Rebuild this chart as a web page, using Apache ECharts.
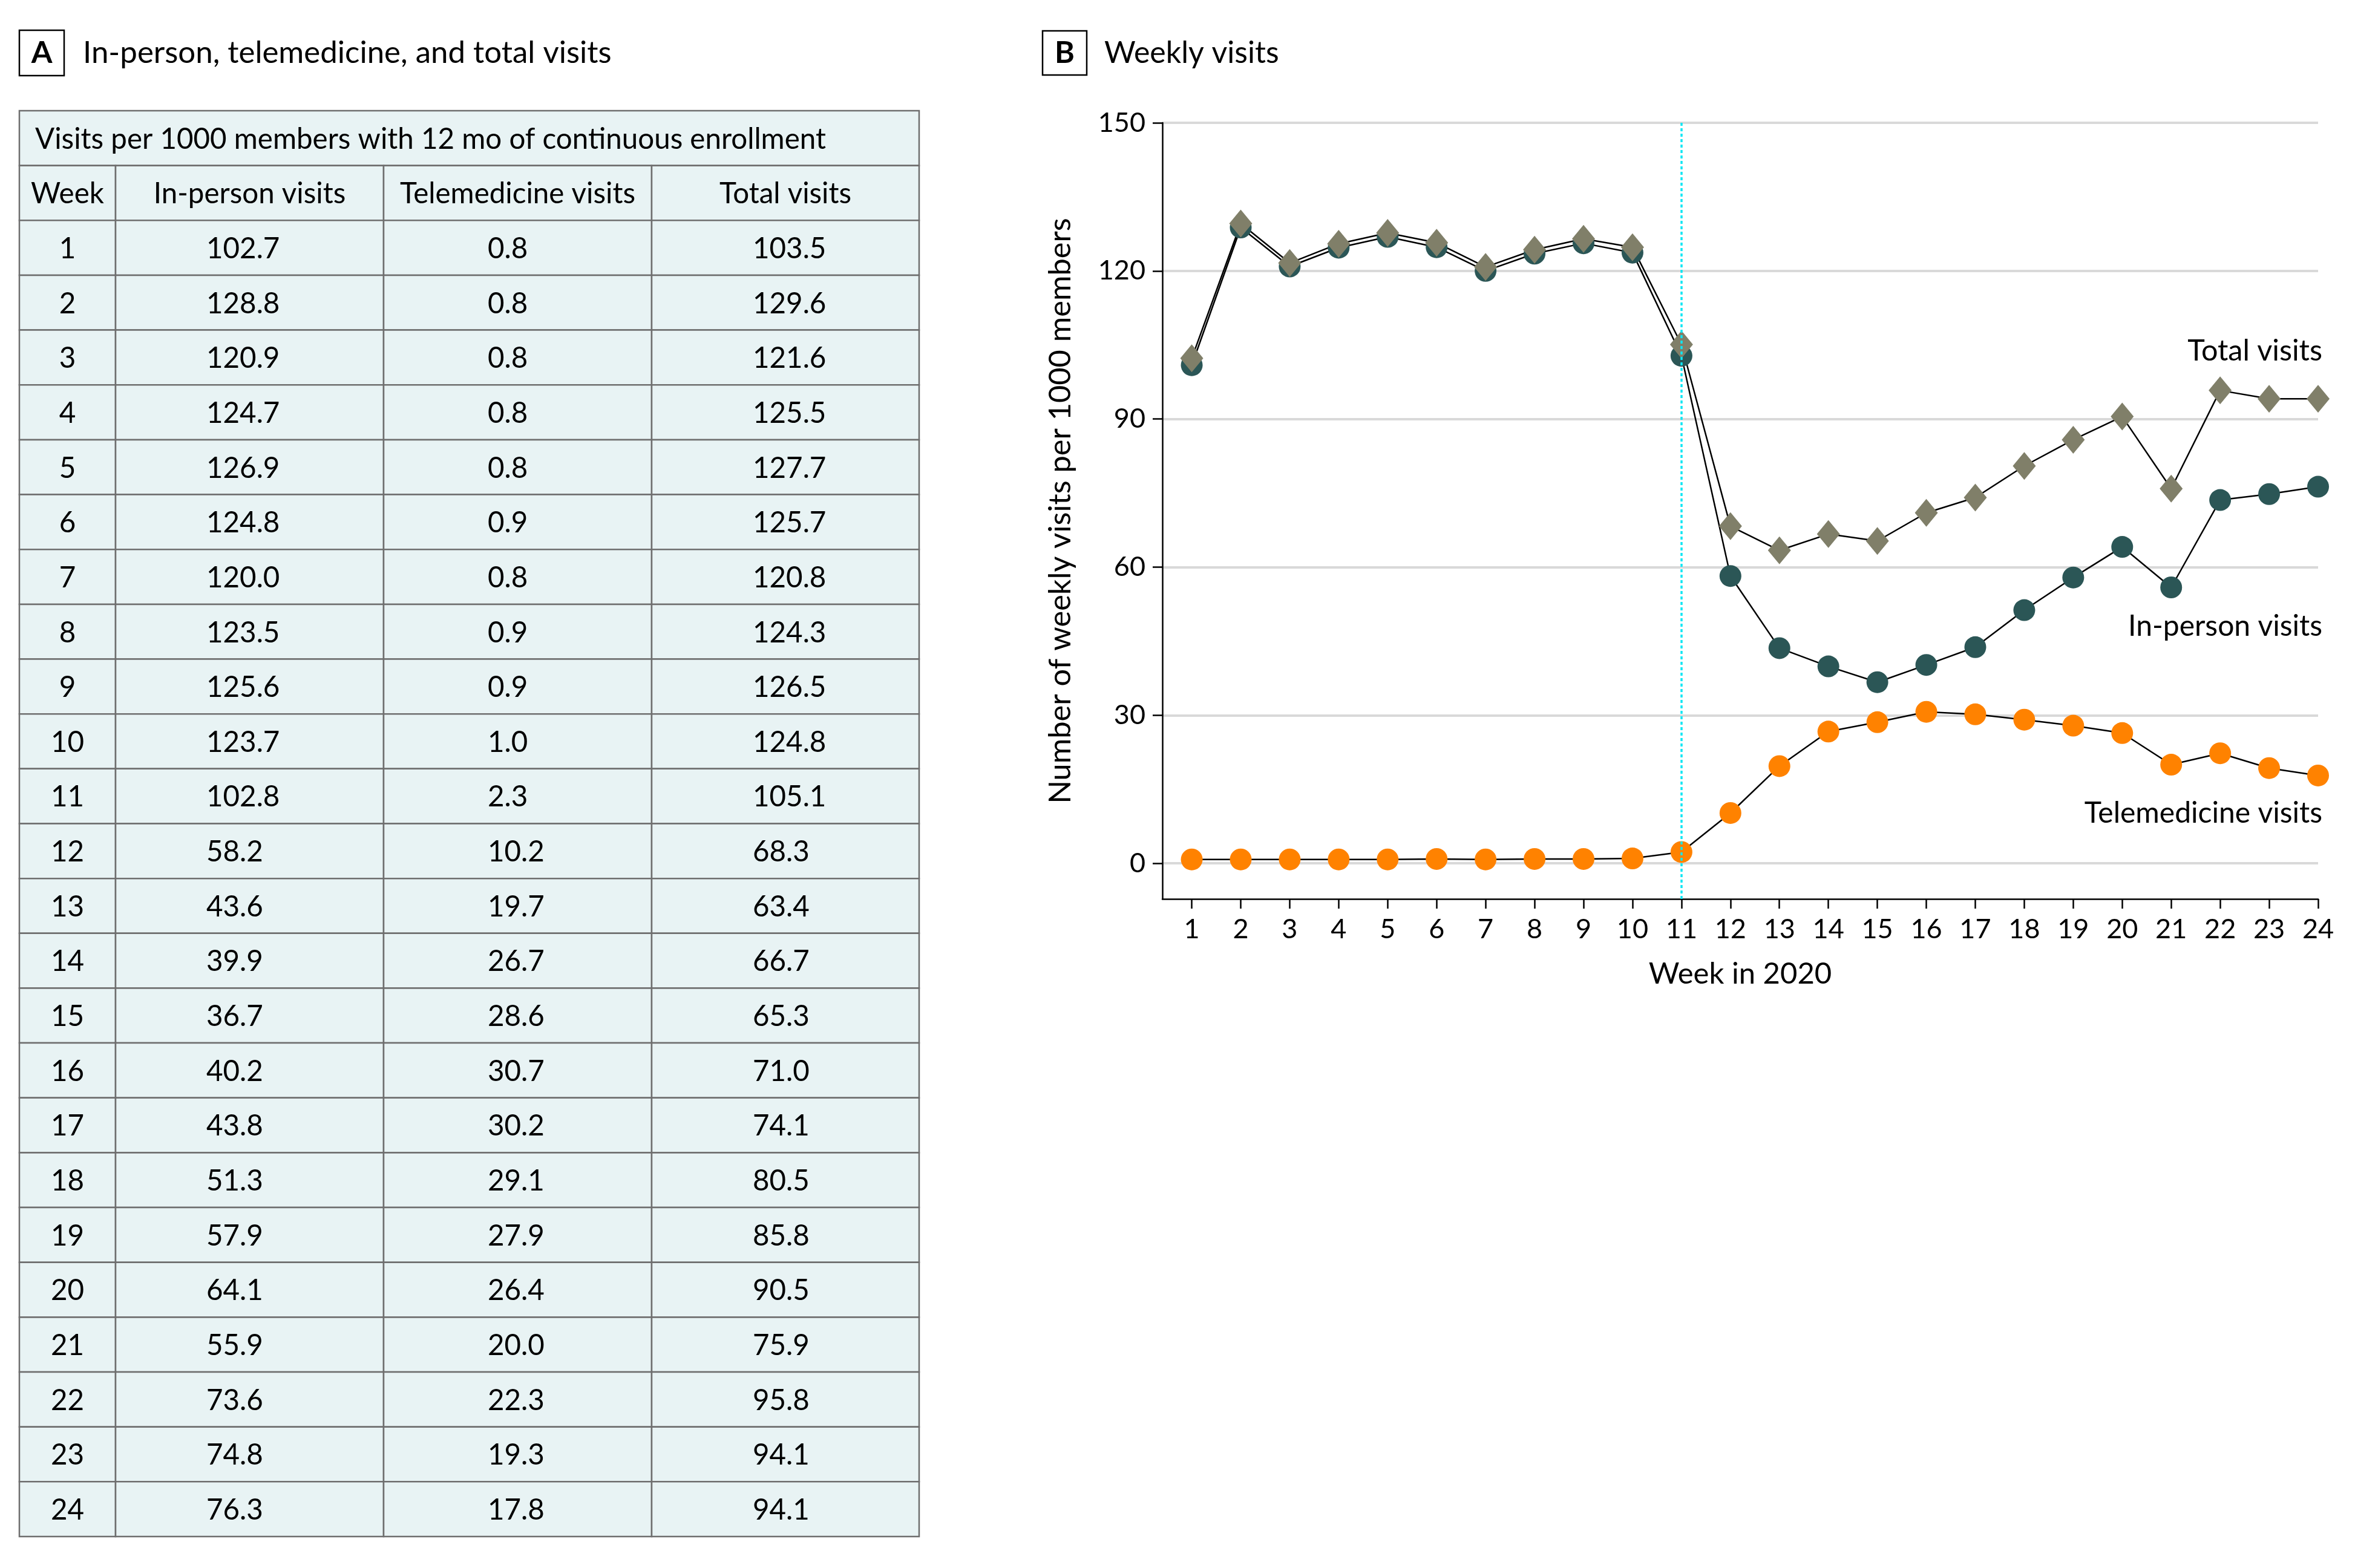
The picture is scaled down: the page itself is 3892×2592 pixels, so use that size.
<!DOCTYPE html>
<html>
<head>
<meta charset="utf-8">
<script src="https://cdn.jsdelivr.net/npm/echarts@6/dist/echarts.min.js"></script>
<style>
html,body{margin:0;padding:0;background:#fff;}
#c{width:3892px;height:2592px;}
</style>
</head>
<body>
<div id="c"></div>
<script>
// ---------------- data ----------------
const weeks = [1,2,3,4,5,6,7,8,9,10,11,12,13,14,15,16,17,18,19,20,21,22,23,24];
// table (panel A) values
const inPerson = [102.7,128.8,120.9,124.7,126.9,124.8,120.0,123.5,125.6,123.7,102.8,58.2,43.6,39.9,36.7,40.2,43.8,51.3,57.9,64.1,55.9,73.6,74.8,76.3];
const telemedicine = [0.8,0.8,0.8,0.8,0.8,0.9,0.8,0.9,0.9,1.0,2.3,10.2,19.7,26.7,28.6,30.7,30.2,29.1,27.9,26.4,20.0,22.3,19.3,17.8];
const totalVisits = [103.5,129.6,121.6,125.5,127.7,125.7,120.8,124.3,126.5,124.8,105.1,68.3,63.4,66.7,65.3,71.0,74.1,80.5,85.8,90.5,75.9,95.8,94.1,94.1];
// plotted (panel B) values
const plotInPerson = [100.9,128.8,120.9,124.7,126.9,124.8,120.0,123.5,125.6,123.7,102.8,58.2,43.6,39.9,36.7,40.2,43.8,51.3,57.9,64.1,55.9,73.6,74.8,76.3];
const plotTelemedicine = [0.8,0.8,0.8,0.8,0.8,0.9,0.8,0.9,0.9,1.0,2.3,10.2,19.7,26.7,28.6,30.7,30.2,29.1,27.9,26.4,20.0,22.3,19.3,17.8];
const plotTotal = [102.3,129.6,121.6,125.5,127.7,125.7,120.8,124.3,126.5,124.8,105.1,68.3,63.4,66.7,65.3,71.0,74.1,80.5,85.8,90.5,75.9,95.8,94.1,94.1];
const yTicks = [0,30,60,90,120,150];
const markerWeek = 11;
const tableCaption = 'Visits per 1000 members with 12 mo of continuous enrollment';
const tableHeaders = ['Week','In-person visits','Telemedicine visits','Total visits'];
const seriesNames = ['Telemedicine visits','In-person visits','Total visits'];

// ---------------- layout / style ----------------
const FONT = 'Lato';
const colEdges = [0, 159, 602, 1045, 1487];     // table column edges (px within table)
const numTextX = [null, 309, 774, 1212];         // left start of numbers in data columns

const cells = [];
cells.push({row:0, c0:0, c1:4, text:tableCaption, align:'left', tx:26});
tableHeaders.forEach((h,i)=>cells.push({row:1, c0:i, c1:i+1, text:h, align:'center'}));
weeks.forEach((w,r)=>{
  const row = r+2;
  cells.push({row, c0:0, c1:1, text:String(w), align:'center'});
  cells.push({row, c0:1, c1:2, text:inPerson[r].toFixed(1), align:'left', tx:numTextX[1]});
  cells.push({row, c0:2, c1:3, text:telemedicine[r].toFixed(1), align:'left', tx:numTextX[2]});
  cells.push({row, c0:3, c1:4, text:totalVisits[r].toFixed(1), align:'left', tx:numTextX[3]});
});
const rowKeys = Array.from({length: weeks.length + 2}, (_, i) => 'r' + i);

const chart = echarts.init(document.getElementById('c'), null, {renderer:'canvas'});

function lineSeries(name, values, symbol, size, color){
  return {
    name, type:'line', xAxisIndex:0, yAxisIndex:0,
    data: weeks.map((w,i)=>[w, values[i]]),
    symbol, symbolSize:size, showAllSymbol:true,
    itemStyle:{color, opacity:1},
    lineStyle:{color:'#000', width:2.5},
    emphasis:{disabled:true}, silent:true
  };
}

function label(text, x, y, size, extra){
  return {type:'text', x, y, style:Object.assign({text, fontSize:size, fontFamily:FONT, fill:'#000',
    align:'left', verticalAlign:'middle', textAlign:'left', textVerticalAlign:'middle'}, extra||{})};
}

const option = {
  animation:false,
  backgroundColor:'#fff',
  textStyle:{fontFamily:FONT},
  grid:[
    {left:1921, top:203, width:1910, height:1283, containLabel:false},
    {left:32, top:183, width:1487, height:2357, containLabel:false}
  ],
  xAxis:[
    {
      type:'value', gridIndex:0, min:0.4, max:24,
      axisLine:{show:true, onZero:false, lineStyle:{color:'#000', width:2.5}},
      axisTick:{show:true, customValues:weeks, length:16, lineStyle:{color:'#000', width:2.5}},
      axisLabel:{customValues:weeks, fontSize:45, color:'#000', margin:28, fontFamily:FONT},
      splitLine:{show:false},
      name:'Week in 2020', nameLocation:'middle', nameGap:100,
      nameTextStyle:{fontSize:49, color:'#000', fontFamily:FONT}
    },
    {type:'value', gridIndex:1, min:0, max:1487, show:false}
  ],
  yAxis:[
    {
      type:'value', gridIndex:0, min:-7.2, max:150,
      axisLine:{show:true, onZero:false, lineStyle:{color:'#000', width:2.5}},
      axisTick:{show:true, customValues:yTicks, length:16, lineStyle:{color:'#000', width:2.5}},
      axisLabel:{customValues:yTicks, fontSize:45, color:'#000', margin:28, fontFamily:FONT},
      splitLine:{show:true, lineStyle:{color:'#d9d9d9', width:4}},
      name:'Number of weekly visits per 1000 members', nameLocation:'middle', nameGap:143, nameRotate:90,
      nameTextStyle:{fontSize:50.5, color:'#000', fontFamily:FONT}
    },
    {type:'category', gridIndex:1, data:rowKeys, inverse:true, show:false}
  ],
  graphic:[
    {type:'rect', shape:{x:32, y:50, width:74, height:75}, style:{fill:'none', stroke:'#000', lineWidth:2.5}},
    label('A', 69, 88, 50, {fontWeight:'bold', align:'center', textAlign:'center'}),
    label('In-person, telemedicine, and total visits', 137, 88, 51),
    {type:'rect', shape:{x:1723, y:51, width:73, height:73}, style:{fill:'none', stroke:'#000', lineWidth:2.5}},
    label('B', 1759.5, 88, 50, {fontWeight:'bold', align:'center', textAlign:'center'}),
    label('Weekly visits', 1825, 88, 50),
    label(seriesNames[2], 3838, 580, 48.5, {align:'right', textAlign:'right'}),
    label(seriesNames[1], 3838, 1036, 48, {align:'right', textAlign:'right'}),
    label(seriesNames[0], 3838, 1345, 48, {align:'right', textAlign:'right'})
  ],
  series:[
    Object.assign(lineSeries(seriesNames[0], plotTelemedicine, 'circle', 36, '#ff8200'), {
      markLine:{
        silent:true, symbol:['none','none'], label:{show:false},
        lineStyle:{color:'#0ee6f4', width:3.5, type:[5,4]},
        data:[{xAxis:markerWeek}]
      }
    }),
    lineSeries(seriesNames[1], plotInPerson, 'circle', 36, '#2b5656'),
    lineSeries(seriesNames[2], plotTotal, 'diamond', [38,46], '#807f69'),
    {
      type:'custom', xAxisIndex:1, yAxisIndex:1, coordinateSystem:'cartesian2d',
      silent:true, clip:false,
      data: cells.map(c=>[colEdges[c.c0], c.row]),
      renderItem:function(params, api){
        const c = cells[params.dataIndex];
        const p0 = api.coord([colEdges[c.c0], c.row]);
        const p1 = api.coord([colEdges[c.c1], c.row]);
        const h = api.size([0,1])[1];
        const tx = c.align === 'center' ? (p0[0]+p1[0])/2 : api.coord([c.tx, c.row])[0];
        return {
          type:'group',
          children:[
            {type:'rect', shape:{x:p0[0], y:p0[1]-h/2, width:p1[0]-p0[0], height:h},
             style:{fill:'#e8f3f4', stroke:'#6e6e6e', lineWidth:2.5}},
            {type:'text', x:tx, y:p0[1]+2,
             style:{text:c.text, fontSize:47.5, fontFamily:FONT, fill:'#000',
                    align:c.align, verticalAlign:'middle', textAlign:c.align, textVerticalAlign:'middle'}}
          ]
        };
      }
    }
  ]
};
chart.setOption(option);
</script>
</body>
</html>
